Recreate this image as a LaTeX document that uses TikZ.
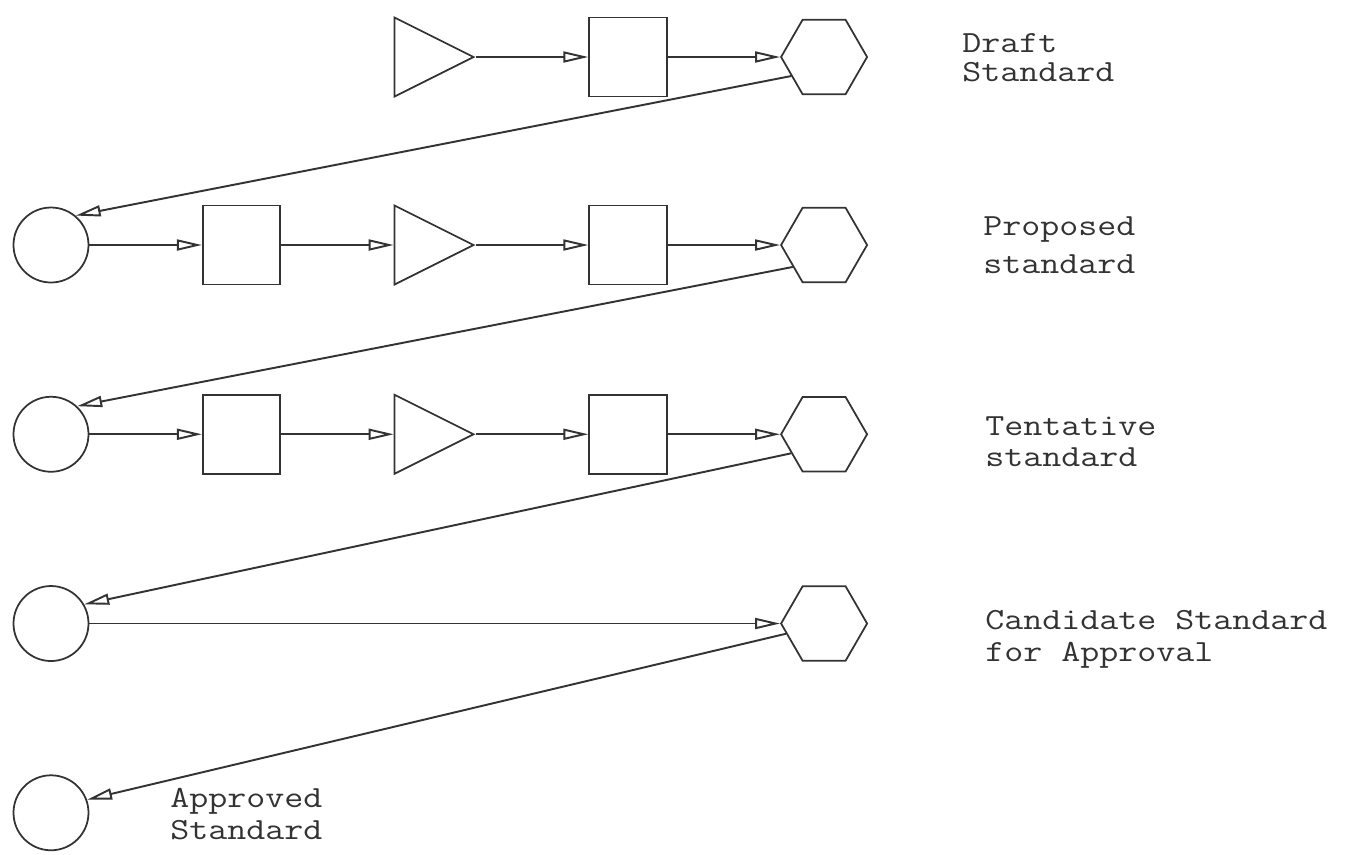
\documentclass[tikz,border=0pt]{standalone}
\usepackage{fontspec}
\newfontfamily\typewriter{Latin Modern Mono}[FakeStretch=1.2]
\usepackage{tikz}
\usetikzlibrary{shapes.geometric, arrows.meta, positioning}
\tikzset{
  circ/.style={circle, draw=black!80, line width=1pt, minimum size=1.5cm, inner sep=0pt},
  box/.style={rectangle, draw=black!80, line width=1pt, minimum width=1.55cm,
              minimum height=1.58cm, inner sep=0pt},
  tri/.style={isosceles triangle, isosceles triangle stretches, draw=black!80,
              line width=1pt, minimum width=1.58cm, minimum height=1.58cm, inner sep=0pt},
  hex/.style={regular polygon, regular polygon sides=6, draw=black!80,
              line width=1pt, minimum size=1.72cm, inner sep=0pt},
  stage/.style={anchor=north west, inner sep=0pt, align=left, text=black!80,
                font=\typewriter\fontsize{17.5}{18}\selectfont},
  arrow/.style={-{Triangle[open, length=5mm, width=2.2mm]}, line width=1.1pt, draw=black!80},
}

\begin{document}
\begin{tikzpicture}[node distance=2.25cm]
  \useasboundingbox (0,0) rectangle (27.04,-17.08);

  % second row
  \node[circ] at (1.02,-4.9) (circ2) {};
  \node[box, right=of circ2] (sq2a) {};
  \node[tri, right=of sq2a] (tri2) {};
  \node[box, right=of tri2] (sq2b) {};
  \node[hex, right=of sq2b] (hex2) {};

  % first row
  \node[tri] at (tri2 |- 0,-1.14) (tri1) {};
  \node[box, right=of tri1] (sq1) {};
  \node[hex, right=of sq1] (hex1) {};

  % third row
  \node[circ, below=of circ2] (circ3) {};
  \node[box, right=of circ3] (sq3a) {};
  \node[tri, right=of sq3a] (tri3) {};
  \node[box, right=of tri3] (sq3b) {};
  \node[hex, right=of sq3b] (hex3) {};

  % last rows
  \node[circ, below=of circ3] (circ4) {};
  \node[hex] at (hex3 |- circ4) (hex4) {};
  \node[circ, below=of circ4] (circ5) {};

  \node[stage] at (19.24,-0.66) (draft) {Draft\\[-1.2pt]Standard};
  \node[stage] at (19.66,-4.32) (proposed) {Proposed\\[3.6pt]standard};
  \node[stage] at (19.7,-8.32) (tentative) {Tentative\\standard};
  \node[stage] at (19.7,-12.2) (candidate) {Candidate Standard\\for Approval};
  \node[stage] at (3.4,-15.76) (approved) {Approved\\Standard};

  \draw[arrow] (tri1) -- (sq1);
  \draw[arrow] (sq1) -- (hex1);
  \draw[arrow] (hex1.210) -- (circ2.50);

  \draw[arrow] (circ2) -- (sq2a);
  \draw[arrow] (sq2a) -- (tri2);
  \draw[arrow] (tri2) -- (sq2b);
  \draw[arrow] (sq2b) -- (hex2);
  \draw[arrow] (hex2.215) -- (circ3.47);

  \draw[arrow] (circ3) -- (sq3a);
  \draw[arrow] (sq3a) -- (tri3);
  \draw[arrow] (tri3) -- (sq3b);
  \draw[arrow] (sq3b) -- (hex3);
  \draw[arrow] (hex3.210) -- (circ4.30);

  \draw[arrow] (circ4) -- (hex4);
  \draw[arrow] (hex4.195) -- (circ5.20);
\end{tikzpicture}
\end{document}
